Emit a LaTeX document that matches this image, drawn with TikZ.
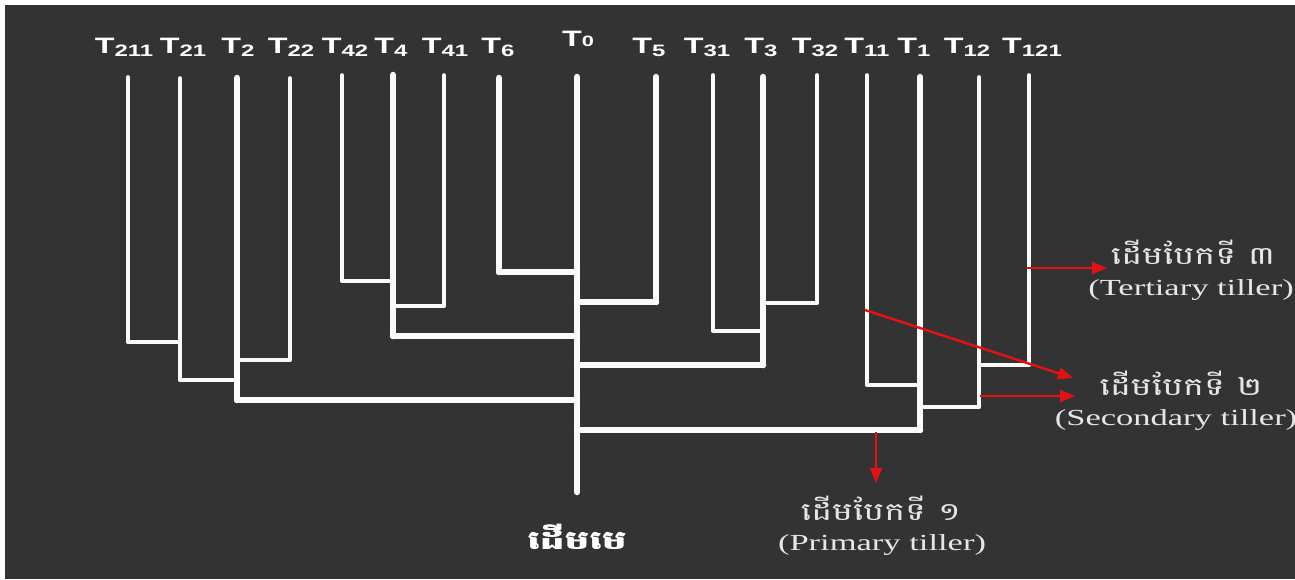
\documentclass[tikz,border=0pt]{standalone}
\usepackage{fontspec}
\usetikzlibrary{arrows.meta}
\newfontfamily\labfont[FakeStretch=1.45]{Liberation Sans}
\newfontfamily\khfont[Script=Khmer,FakeStretch=1.4]{Battambang}
\newfontfamily\khroot[Script=Khmer,FakeStretch=1.5]{Battambang}
\newfontfamily\enfont[FakeStretch=1.5]{Liberation Serif}
\definecolor{bg}{HTML}{333333}
\definecolor{ln}{HTML}{FAFAFA}
\definecolor{txt}{HTML}{E6E6E6}
\definecolor{arr}{RGB}{226,18,18}
\newcommand{\tlab}[1]{{\labfont\bfseries\fontsize{22.3}{24}\selectfont T}\raisebox{-3.5pt}{\labfont\bfseries\fontsize{16.5}{18}\selectfont #1}}
\begin{document}
\begin{tikzpicture}[x=1pt,y=-1pt,
  thinl/.style={draw=ln,line width=3.6pt,line cap=round},
  thickl/.style={draw=ln,line width=6.5pt,line cap=round},
  tlabel/.style={anchor=base,inner sep=0pt,text=white},
  redarr/.style={draw=arr,line width=2.4pt,-{Triangle[length=15pt,width=12pt]}},
  khlab/.style={inner sep=0pt,text=txt,font=\khfont\fontsize{25}{28}\selectfont},
  enlab/.style={inner sep=0pt,text=txt,font=\enfont\fontsize{23}{26}\selectfont}]
\fill[white] (0,0) rectangle (1295,579);
\fill[bg] (5,5) rectangle (1295,579);
\useasboundingbox (0,0) rectangle (1295,579);
% coordinates of the stems
\foreach \n/\x/\t/\b in {T211/128/77/342, T21/180/78/380, T2/237/78/400, T22/290/78/360,
  T42/342/75/281, T4/393/75/336, T41/444/75/306, T6/499/78/272, T0/577/77/492,
  T5/656/77/302, T31/713/75/331, T3/763/77/365, T32/817/75/303, T11/867/75/385,
  T1/920/77/430, T12/979/77/407, T121/1029/75/365}{
  \coordinate (\n t) at (\x,\t);
  \coordinate (\n b) at (\x,\b);
}
% labels
\node[tlabel] (L211) at (124,53) {\tlab{211}};
\node[tlabel] (L21) at (183,53) {\tlab{21}};
\node[tlabel] (L2) at (238,53) {\tlab{2}};
\node[tlabel] (L22) at (291,53) {\tlab{22}};
\node[tlabel] (L42) at (345,53) {\tlab{42}};
\node[tlabel] (L4) at (391,53) {\tlab{4}};
\node[tlabel] (L41) at (445,53) {\tlab{41}};
\node[tlabel] (L6) at (498,53) {\tlab{6}};
\node[tlabel] (L0) at (578,46) {{\labfont\bfseries\fontsize{22.3}{24}\selectfont T}{\labfont\bfseries\fontsize{15}{18}\selectfont 0}};
\node[tlabel] (L5) at (649,53) {\tlab{5}};
\node[tlabel] (L31) at (707,53) {\tlab{31}};
\node[tlabel] (L3) at (761,53) {\tlab{3}};
\node[tlabel] (L32) at (815,53) {\tlab{32}};
\node[tlabel] (L11) at (867,53) {\tlab{11}};
\node[tlabel] (L1) at (914,53) {\tlab{1}};
\node[tlabel] (L12) at (967,53) {\tlab{12}};
\node[tlabel] (L121) at (1032,53) {\tlab{121}};
% thin stems
\foreach \n in {T211,T21,T22,T42,T41,T31,T32,T11,T12,T121}{
  \draw[thinl] (\n t) -- (\n b);
}
% thin joins
\draw[thinl] (T211b) -- (T211b -| T21t);
\draw[thinl] (T21b) -- (T21b -| T2t);
\draw[thinl] (T22b) -- (T22b -| T2t);
\draw[thinl] (T42b) -- (T42b -| T4t);
\draw[thinl] (T41b) -- (T41b -| T4t);
\draw[thinl] (T31b) -- (T31b -| T3t);
\draw[thinl] (T32b) -- (T32b -| T3t);
\draw[thinl] (T11b) -- (T11b -| T1t);
\draw[thinl] (T12b) -- (T12b -| T1t);
\draw[thinl] (T121b) -- (T121b -| T12t);
% thick stems
\foreach \n in {T2,T4,T6,T0,T5,T3,T1}{
  \draw[thickl] (\n t) -- (\n b);
}
% thick joins to main stem
\draw[thickl] (T2b) -- (T2b -| T0t);
\draw[thickl] (T4b) -- (T4b -| T0t);
\draw[thickl] (T6b) -- (T6b -| T0t);
\draw[thickl] (T5b) -- (T5b -| T0t);
\draw[thickl] (T3b) -- (T3b -| T0t);
\draw[thickl] (T1b) -- (T1b -| T0t);
% legend texts
\node[khlab] (k3) at (1193,252) {ដើមបែកទី ៣};
\node[enlab] (e3) at (1191,290) {(Tertiary tiller)};
\node[khlab] (k2) at (1181,383) {ដើមបែកទី ២};
\node[enlab] (e2) at (1176,420) {(Secondary tiller)};
\node[khlab] (k1) at (881,508) {ដើមបែកទី ១};
\node[enlab] (e1) at (882,545) {(Primary tiller)};
\node[inner sep=0pt,text=white,font=\khroot\bfseries\fontsize{26}{28}\selectfont] (root) at (577,537) {ដើមមេ};
% red arrows
\coordinate (a3s) at (1027,268);
\coordinate (a3e) at (1107,268);
\coordinate (a2s) at (865,310);
\coordinate (a2e) at (1073,378);
\coordinate (a2hs) at (980,396);
\coordinate (a2he) at (1075,396);
\coordinate (a1s) at (876,432);
\coordinate (a1e) at (876,483);
\draw[redarr] (a3s) -- (a3e);
\draw[redarr] (a2s) -- (a2e);
\draw[redarr] (a2hs) -- (a2he);
\draw[redarr] (a1s) -- (a1e);
\end{tikzpicture}
\end{document}
